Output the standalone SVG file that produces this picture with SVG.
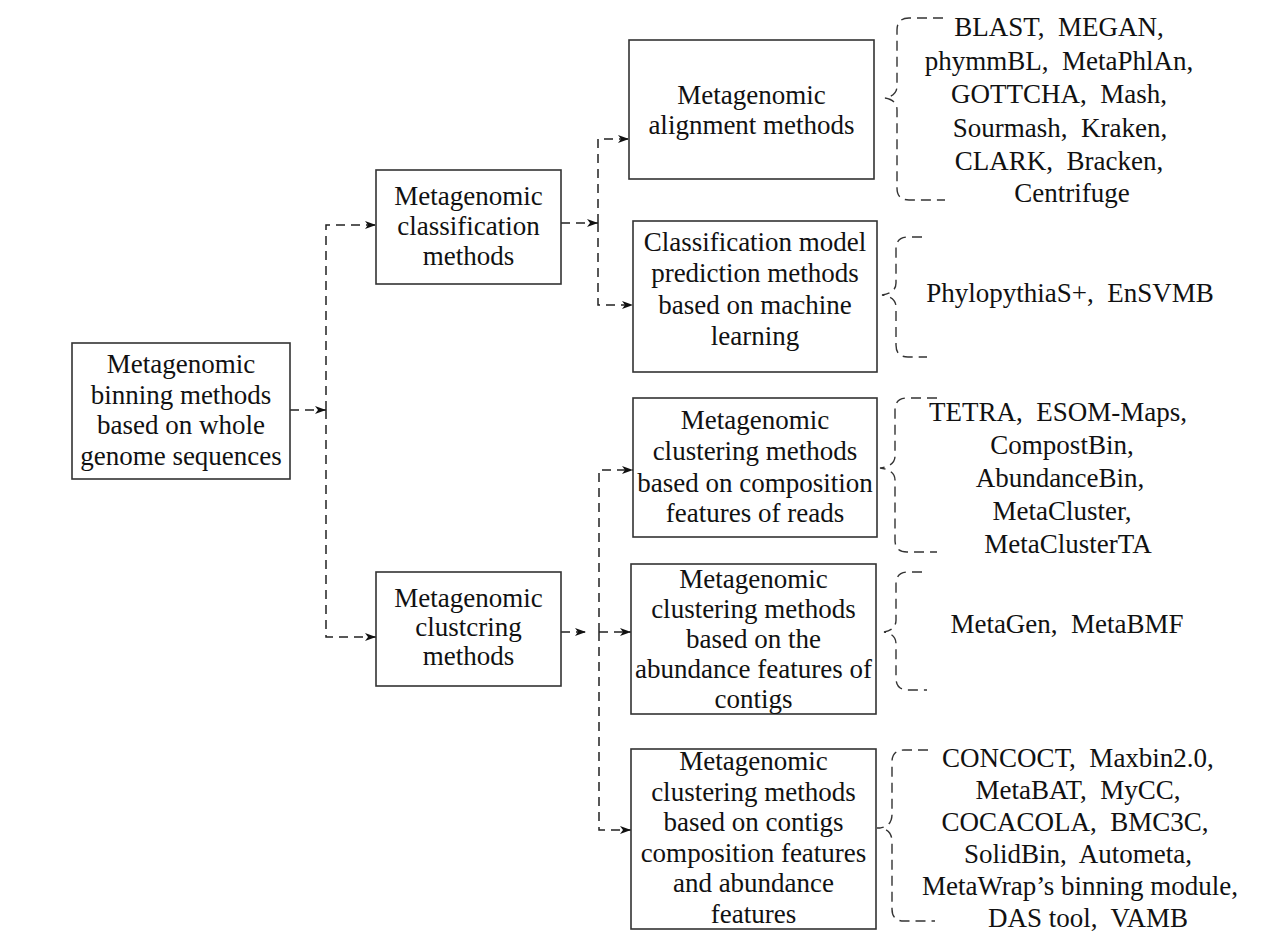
<svg xmlns="http://www.w3.org/2000/svg" width="1278" height="952" viewBox="0 0 1278 952">
<style>
.box{fill:#fff;stroke:#333;stroke-width:1.6}
.t{font-family:"Liberation Serif","Times New Roman",serif;font-size:27px;fill:#111;text-anchor:middle}
.p{white-space:pre}
.c{fill:none;stroke:#222;stroke-width:1.5;stroke-dasharray:9 6}
.b{fill:none;stroke:#333;stroke-width:1.4;stroke-dasharray:10 6}
</style>
<defs>
<marker id="ah" markerUnits="userSpaceOnUse" markerWidth="12" markerHeight="8" refX="11" refY="4" orient="auto">
<path d="M0,0 L11,4 L0,8 L3,4 Z" fill="#111"/>
</marker>
</defs>
<rect width="1278" height="952" fill="#fff"/>

<g id="connectors">
<path class="c" d="M290,410 H326" marker-end="url(#ah)"/>
<path class="c" d="M326,410 V225 H376" marker-end="url(#ah)"/>
<path class="c" d="M326,410 V637 H376" marker-end="url(#ah)"/>
<path class="c" d="M561,223 H598" marker-end="url(#ah)"/>
<path class="c" d="M598,223 V139 H629" marker-end="url(#ah)"/>
<path class="c" d="M598,223 V305 H633" marker-end="url(#ah)"/>
<path class="c" d="M561,632 H586" marker-end="url(#ah)"/>
<path class="c" d="M599,632 H631" marker-end="url(#ah)"/>
<path class="c" d="M599,632 V470 H633" marker-end="url(#ah)"/>
<path class="c" d="M599,632 V830 H631" marker-end="url(#ah)"/>
</g>

<g id="braces">
<path class="b" d="M943,18 H909 Q897,18 897,30 V86 Q897,96 885,98 Q897,100 897,110 V188 Q897,200 909,200 H945"/>
<path class="b" d="M922,237 H908 Q896,237 896,249 V283 Q896,293 882,295 Q896,297 896,307 V345 Q896,357 908,357 H927"/>
<path class="b" d="M937,398 H907 Q895,398 895,410 V456 Q895,466 880,468 Q895,470 895,480 V540 Q895,552 907,552 H937"/>
<path class="b" d="M922,572 H908 Q896,572 896,584 V620 Q896,630 884,632 Q896,634 896,644 V678 Q896,690 908,690 H927"/>
<path class="b" d="M928,750 H904 Q892,750 892,762 V814 Q892,828 877,828 Q892,828 892,842 V909 Q892,921 904,921 H935"/>
</g>

<g id="root">
<rect class="box" x="72" y="343" width="218" height="136"/>
<text class="t" x="181" y="373">Metagenomic</text>
<text class="t" x="181" y="403.5">binning methods</text>
<text class="t" x="181" y="434">based on whole</text>
<text class="t" x="181" y="464.5">genome sequences</text>
</g>

<g id="classification">
<rect class="box" x="376" y="170" width="185" height="114"/>
<text class="t" x="468.5" y="205">Metagenomic</text>
<text class="t" x="468.5" y="235">classification</text>
<text class="t" x="468.5" y="265">methods</text>
</g>

<g id="clustering">
<rect class="box" x="376" y="572" width="185" height="114"/>
<text class="t" x="468.5" y="607">Metagenomic</text>
<text class="t" x="468.5" y="636">clustcring</text>
<text class="t" x="468.5" y="665">methods</text>
</g>

<g id="alignment">
<rect class="box" x="629" y="40" width="245" height="139"/>
<text class="t" x="751.5" y="104">Metagenomic</text>
<text class="t" x="751.5" y="134">alignment methods</text>
</g>

<g id="ml">
<rect class="box" x="633" y="221" width="244" height="151"/>
<text class="t" x="755" y="251">Classification model</text>
<text class="t" x="755" y="282">prediction methods</text>
<text class="t" x="755" y="314">based on machine</text>
<text class="t" x="755" y="345">learning</text>
</g>

<g id="composition">
<rect class="box" x="633" y="398" width="244" height="139"/>
<text class="t" x="755" y="429">Metagenomic</text>
<text class="t" x="755" y="460">clustering methods</text>
<text class="t" x="755" y="492">based on composition</text>
<text class="t" x="755" y="522">features of reads</text>
</g>

<g id="abundance">
<rect class="box" x="631" y="564" width="245" height="150"/>
<text class="t" x="753.5" y="588">Metagenomic</text>
<text class="t" x="753.5" y="618">clustering methods</text>
<text class="t" x="753.5" y="648">based on the</text>
<text class="t" x="753.5" y="678">abundance features of</text>
<text class="t" x="753.5" y="708">contigs</text>
</g>

<g id="contigs">
<rect class="box" x="631" y="749" width="245" height="180"/>
<text class="t" x="753.5" y="770">Metagenomic</text>
<text class="t" x="753.5" y="800.5">clustering methods</text>
<text class="t" x="753.5" y="831">based on contigs</text>
<text class="t" x="753.5" y="861.5">composition features</text>
<text class="t" x="753.5" y="892">and abundance</text>
<text class="t" x="753.5" y="922.5">features</text>
</g>

<g id="tools-alignment">
<text class="t p" xml:space="preserve" x="1059" y="36">BLAST,  MEGAN,</text>
<text class="t p" xml:space="preserve" x="1059" y="70">phymmBL,  MetaPhlAn,</text>
<text class="t p" xml:space="preserve" x="1059" y="103">GOTTCHA,  Mash,</text>
<text class="t p" xml:space="preserve" x="1060" y="137">Sourmash,  Kraken,</text>
<text class="t p" xml:space="preserve" x="1059" y="170">CLARK,  Bracken,</text>
<text class="t" x="1072" y="202">Centrifuge</text>
</g>

<g id="tools-ml">
<text class="t p" xml:space="preserve" x="1070" y="302">PhylopythiaS+,  EnSVMB</text>
</g>

<g id="tools-composition">
<text class="t p" xml:space="preserve" x="1058" y="421">TETRA,  ESOM-Maps,</text>
<text class="t" x="1062" y="454">CompostBin,</text>
<text class="t" x="1060" y="487">AbundanceBin,</text>
<text class="t" x="1062" y="520">MetaCluster,</text>
<text class="t" x="1068" y="553">MetaClusterTA</text>
</g>

<g id="tools-abundance">
<text class="t p" xml:space="preserve" x="1067" y="633">MetaGen,  MetaBMF</text>
</g>

<g id="tools-contigs">
<text class="t p" xml:space="preserve" x="1078" y="767">CONCOCT,  Maxbin2.0,</text>
<text class="t p" xml:space="preserve" x="1078" y="799">MetaBAT,  MyCC,</text>
<text class="t p" xml:space="preserve" x="1075" y="831">COCACOLA,  BMC3C,</text>
<text class="t p" xml:space="preserve" x="1078" y="863">SolidBin,  Autometa,</text>
<text class="t" x="1080" y="895">MetaWrap’s binning module,</text>
<text class="t p" xml:space="preserve" x="1088" y="927">DAS tool,  VAMB</text>
</g>
</svg>
